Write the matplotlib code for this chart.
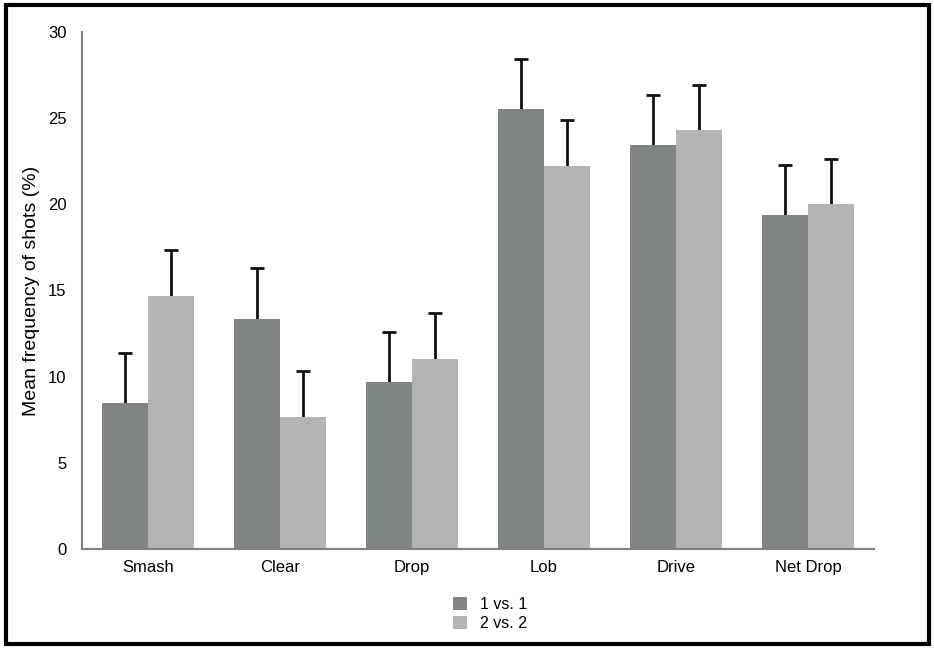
import matplotlib
matplotlib.use("Agg")
import matplotlib.pyplot as plt
from matplotlib.patches import Rectangle
import numpy as np

categories = ["Smash", "Clear", "Drop", "Lob", "Drive", "Net Drop"]
series_names = ["1 vs. 1", "2 vs. 2"]
one_vs_one = [8.5, 13.35, 9.7, 25.55, 23.45, 19.4]
one_vs_one_err = [2.85, 2.95, 2.9, 2.9, 2.9, 2.9]
two_vs_two = [14.7, 7.65, 11.05, 22.25, 24.3, 20.0]
two_vs_two_err = [2.65, 2.65, 2.65, 2.65, 2.6, 2.65]
yticks = [0, 5, 10, 15, 20, 25, 30]

plt.rcParams['font.family'] = ['Liberation Sans', 'DejaVu Sans']

fig = plt.figure(figsize=(9.34, 6.49), dpi=100)
ax = fig.add_axes([0.0878, 0.1541, 0.848, 0.7966])

x = np.arange(len(categories))
w = 0.345
c1, c2 = "#808583", "#b3b3b3"
ekw = dict(ecolor="#111111", elinewidth=2, capsize=5, capthick=2, zorder=1)
ax.bar(x - w/2, one_vs_one, w, color=c1, label=series_names[0], zorder=2)
ax.bar(x + w/2, two_vs_two, w, color=c2, label=series_names[1], zorder=2)
ax.errorbar(x - w/2, one_vs_one, yerr=one_vs_one_err, fmt="none", **ekw)
ax.errorbar(x + w/2, two_vs_two, yerr=two_vs_two_err, fmt="none", **ekw)

ax.set_xlim(-0.5, 5.5)
ax.set_ylim(0, 30)
ax.set_yticks(yticks)
ax.set_xticks(x)
ax.set_xticklabels(categories)
ax.tick_params(axis='y', length=0, pad=11, labelsize=12)
ax.tick_params(axis='x', length=0, pad=8, labelsize=12)
for s in ["top", "right"]:
    ax.spines[s].set_visible(False)
for s in ["left", "bottom"]:
    ax.spines[s].set_color("#808080")
    ax.spines[s].set_linewidth(1.5)
    ax.spines[s].set_zorder(3)
ax.set_ylabel("Mean frequency of shots (%)", fontsize=14, labelpad=6)

ax.legend(loc="upper center", bbox_to_anchor=(0.515, -0.065), frameon=False,
          fontsize=11.5, handlelength=0.9, handleheight=0.8, handletextpad=0.8,
          labelspacing=0.25)

fig.patches.append(Rectangle((0.006, 0.008), 0.989, 0.985, transform=fig.transFigure,
                             fill=False, edgecolor="black", linewidth=3))

fig.savefig("out.png", dpi=100)
